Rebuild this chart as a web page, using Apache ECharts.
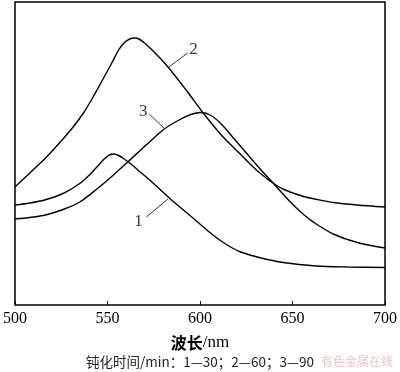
<!DOCTYPE html>
<html><head><meta charset="utf-8">
<script src="https://cdn.jsdelivr.net/npm/echarts@6/dist/echarts.min.js"></script>
<style>html,body{margin:0;padding:0;background:#fff}#c{width:400px;height:372px}</style>
</head><body><div id="c"></div>
<script>
// wavelength (nm) ticks
const xTicks = [500, 550, 600, 650, 700];
// absorbance (arbitrary units)
const curve1 = [[500,100],[508,102],[516,105],[526,111.5],[535,121.5],[541,131.5],[545,139.5],[548.5,146.5],[551.5,150.5],[553.5,151],[556,149.5],[559,146],[563,140.5],[568,132.5],[574,123],[584,106],[598.7,83],[605,73],[611,64.5],[617,57.5],[622,53],[632,47.5],[645,42.5],[663,39],[680,38],[700,37.5]];
const curve2 = [[500,118],[508,132],[516.5,147],[524,162],[531,177],[537,192],[541.6,206],[547,224],[552.3,242],[556,255],[559.2,262.5],[562,266],[564.5,267],[567,266],[570,262],[575.2,253],[582.7,238],[593.3,213],[601.3,193],[612,169],[619,156],[626,143],[633,131],[641,120],[646,115],[651,111.5],[656,108.5],[662,106],[672,102.5],[685,100],[700,98]];
const curve3 = [[500,86],[508,87.5],[516.5,90],[526,95.5],[535,103],[544.3,116],[553.2,130],[561.2,143.5],[570.9,160],[580.7,176],[588.7,185],[595,190.5],[600.5,192.5],[606,189.5],[612,180],[619,165],[626,150],[633,135],[641,119],[646,108.5],[651,99],[656,90.5],[662,82],[672,71],[685,62.5],[700,57]];
// curve labels and leader lines (data coordinates)
const labelTexts = ['1', '2', '3'];
const labelPos = [[566.7,83],[596.5,255],[569.3,193]];
const leaders = [
  [[571,88],[582.7,106]],
  [[593.3,252],[583.2,238]],
  [[572.5,191],[580.5,177]]
];
const caption = '钝化时间/min：1—30；2—60；3—90';
const watermark = '有色金属在线';

const chart = echarts.init(document.getElementById('c'), null, {renderer: 'canvas'});
const curveStyle = {color: '#000', width: 1.4};
const series = [curve1, curve2, curve3].map(d => ({
  type: 'line', data: d, showSymbol: false, smooth: 0.3, lineStyle: curveStyle, silent: true
}));
leaders.forEach(l => series.push({
  type: 'line', data: l, showSymbol: false, lineStyle: {color: '#000', width: 0.8}, silent: true
}));
series.push({
  type: 'scatter', symbolSize: 0, silent: true,
  data: labelPos.map((p, i) => [p[0], p[1], labelTexts[i]]),
  label: {show: true, position: 'inside', formatter: p => p.data[2],
    fontFamily: 'Liberation Serif', fontSize: 17, color: '#000'}
});

chart.setOption({
  animation: false,
  backgroundColor: '#fff',
  grid: {left: 12, right: 13, top: 2, bottom: 67, show: true, borderColor: '#000', borderWidth: 1.5},
  xAxis: {
    type: 'value', min: 500, max: 700, interval: 50,
    axisLine: {show: false},
    axisTick: {show: true, inside: true, length: 4, lineStyle: {color: '#000', width: 1}},
    splitLine: {show: false},
    axisLabel: {color: '#000', fontFamily: 'Liberation Serif', fontSize: 16, margin: 6,
      showMinLabel: true, showMaxLabel: true, hideOverlap: false,
      customValues: xTicks},
    name: '{a|波长}{b|/nm}', nameLocation: 'middle', nameGap: 29,
    nameTextStyle: {rich: {
      a: {fontFamily: 'Noto Sans CJK SC', fontWeight: 'bold', fontSize: 16, color: '#000'},
      b: {fontFamily: 'Liberation Serif', fontSize: 17, color: '#000'}
    }}
  },
  yAxis: {type: 'value', min: 0, max: 303, show: false},
  graphic: [
    {type: 'text', left: 'center', top: 355, style: {text: caption, font: '13.5px "Noto Sans CJK SC", "Liberation Serif"', fill: '#222'}},
    {type: 'text', right: 7, top: 355, style: {text: watermark, font: '12px "Noto Sans CJK SC"', fill: 'rgba(235,150,150,0.6)'}}
  ],
  series: series
});
</script></body></html>
